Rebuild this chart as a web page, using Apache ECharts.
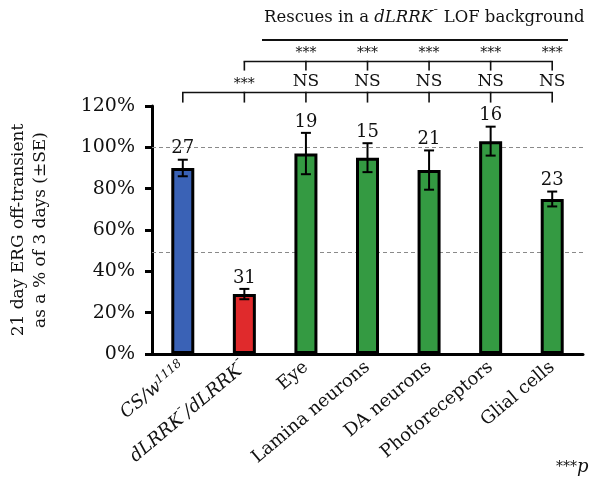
<!DOCTYPE html>
<html><head><meta charset="utf-8">
<script src="https://cdn.jsdelivr.net/npm/echarts@6/dist/echarts.min.js"></script>
<style>html,body{margin:0;padding:0;background:#fff}#c{width:589px;height:484px}</style>
</head><body><div id="c"></div>
<script>
var categories = ['CS/w1118', 'dLRRK-/dLRRK-', 'Eye', 'Lamina neurons', 'DA neurons', 'Photoreceptors', 'Glial cells'];
var values = [90, 29, 97, 95, 89, 103, 75];
var errors = [4, 2.5, 10, 7, 9.5, 7, 3.6];
var nLabels = ['27', '31', '19', '15', '21', '16', '23'];
var sigVsControl = ['', '***', 'NS', 'NS', 'NS', 'NS', 'NS'];
var sigVsMutant = ['', '', '***', '***', '***', '***', '***'];
var yTicks = [0, 20, 40, 60, 80, 100, 120];
var refLines = [100, 49];

var groupColors = ['#3a62b6', '#e02a2c', '#349a42', '#349a42', '#349a42', '#349a42', '#349a42'];
var FONT = 'DejaVu Serif';

var chart = echarts.init(document.getElementById('c'), null, {renderer: 'canvas'});

function catLabel(v) {
  if (v === 'CS/w1118') return '{i|CS/w}{sup|1118}';
  if (v === 'dLRRK-/dLRRK-') return '{i|dLRRK}{sup|\u02C9}{i|/dLRRK}{sup|\u02C9}';
  return '{n|' + v + '}';
}

function bracketRender(labels, level, tickLen, startIdx) {
  return function (params, api) {
    var i = api.value(0);
    if (i < startIdx) return null;
    var p = api.coord([i, level]);
    var children = [];
    var ls = {stroke: '#111', lineWidth: 1.6};
    children.push({type: 'line', shape: {x1: p[0], y1: p[1], x2: p[0], y2: p[1] + tickLen}, style: ls});
    if (i < categories.length - 1) {
      var q = api.coord([i + 1, level]);
      children.push({type: 'line', shape: {x1: p[0] - 0.8, y1: p[1], x2: q[0] + 0.8, y2: q[1]}, style: ls});
    }
    var t = labels[i];
    if (t) {
      var small = t === '***';
      children.push({type: 'text', style: {x: p[0], y: p[1] - (small ? 1 : 2), text: t,
        fill: '#111', font: (small ? 14 : 17) + 'px "' + FONT + '"', textAlign: 'center', textVerticalAlign: 'bottom'}});
    }
    return {type: 'group', children: children};
  };
}

var idx = categories.map(function (c, i) { return [i, 0]; });

chart.setOption({
  animation: false,
  grid: {left: 152, right: 6, top: 106, bottom: 130},
  xAxis: {
    type: 'category', data: categories,
    axisLine: {lineStyle: {color: '#000', width: 3}},
    axisTick: {length: 8, lineStyle: {color: '#000', width: 3}},
    axisLabel: {
      rotate: 40, margin: 11, color: '#111', formatter: catLabel,
      rich: {
        n: {fontFamily: FONT, fontSize: 18, color: '#111'},
        i: {fontFamily: FONT, fontSize: 18, fontStyle: 'italic', color: '#111'},
        sup: {fontFamily: FONT, fontSize: 12, fontStyle: 'italic', color: '#111', verticalAlign: 'top', padding: [0, 0, 8, 0]}
      }
    }
  },
  yAxis: {
    type: 'value', min: 0, max: 120, interval: 20,
    name: '21 day ERG off-transient\nas a % of 3 days (\u00B1SE)',
    nameLocation: 'middle', nameRotate: 90, nameGap: 100,
    nameTextStyle: {fontFamily: FONT, fontSize: 17, color: '#111', lineHeight: 22},
    axisLine: {show: true, lineStyle: {color: '#000', width: 3}},
    axisTick: {show: true, length: 7, lineStyle: {color: '#000', width: 3}},
    splitLine: {show: false},
    axisLabel: {fontFamily: FONT, fontSize: 19, color: '#111', margin: 17,
      formatter: function (v) { return yTicks.indexOf(v) >= 0 ? v + '%' : ''; }}
  },
  series: [
    {
      type: 'bar', barWidth: 23, z: 2,
      data: values.map(function (v, i) { return {value: v, itemStyle: {color: groupColors[i]}}; }),
      itemStyle: {borderColor: '#000', borderWidth: 3},
      markLine: {
        silent: true, symbol: 'none', z: 1,
        lineStyle: {color: '#8a8a8a', type: [4, 3], width: 1.2},
        label: {show: false},
        data: refLines.map(function (r) { return {yAxis: r}; })
      }
    },
    {
      type: 'custom', z: 5, clip: false,
      data: values.map(function (v, i) { return [i, v, errors[i]]; }),
      renderItem: function (params, api) {
        var i = api.value(0), v = api.value(1), e = api.value(2);
        var top = api.coord([i, v + e]), bot = api.coord([i, v - e]);
        var x = top[0], w = 5;
        var ls = {stroke: '#000', lineWidth: 2};
        return {type: 'group', children: [
          {type: 'line', shape: {x1: x, y1: top[1], x2: x, y2: bot[1]}, style: ls},
          {type: 'line', shape: {x1: x - w, y1: top[1], x2: x + w, y2: top[1]}, style: ls},
          {type: 'line', shape: {x1: x - w, y1: bot[1], x2: x + w, y2: bot[1]}, style: ls},
          {type: 'text', style: {x: x, y: top[1] - 2, text: nLabels[i], fill: '#111',
            font: '18px "' + FONT + '"', textAlign: 'center', textVerticalAlign: 'bottom'}}
        ]};
      }
    },
    {type: 'custom', z: 5, clip: false, data: idx, silent: true,
      renderItem: bracketRender(sigVsControl, 126.5, 10, 0)},
    {type: 'custom', z: 5, clip: false, data: idx, silent: true,
      renderItem: bracketRender(sigVsMutant, 141.5, 9, 1)}
  ],
  graphic: [
    {type: 'text', left: 264, top: 9, style: {
      text: '{n|Rescues in a }{i|dLRRK}{sup|\u02C9}{n| LOF background}',
      rich: {
        n: {fontFamily: FONT, fontSize: 16.5, fill: '#111'},
        i: {fontFamily: FONT, fontSize: 16.5, fontStyle: 'italic', fill: '#111'},
        sup: {fontFamily: FONT, fontSize: 11, fill: '#111', verticalAlign: 'top'}
      }}},
    {type: 'line', shape: {x1: 262, y1: 40, x2: 568, y2: 40}, style: {stroke: '#111', lineWidth: 2}},
    {type: 'text', left: 556, top: 458, style: {text: '{s|***}{p|p}',
      rich: {s: {fontFamily: FONT, fontSize: 14, fill: '#111'}, p: {fontFamily: FONT, fontSize: 18, fontStyle: 'italic', fill: '#111'}}}}
  ]
});
</script></body></html>
